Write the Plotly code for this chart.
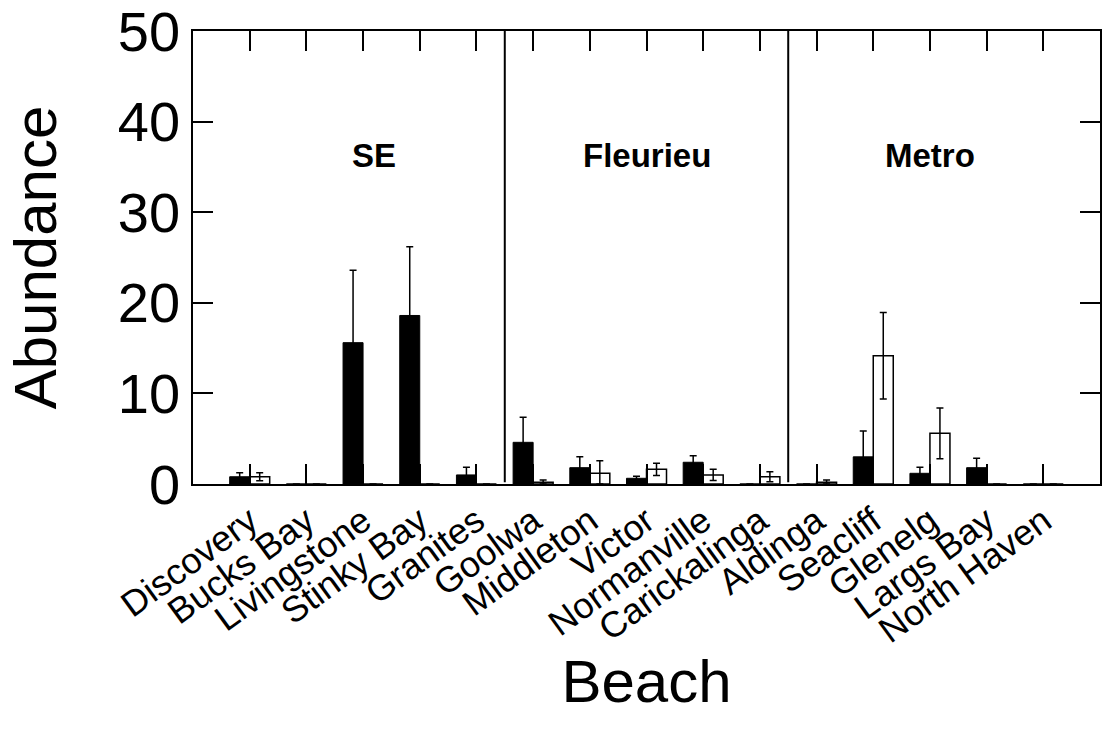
import plotly.graph_objects as go

beaches = ["Discovery", "Bucks Bay", "Livingstone", "Stinky Bay", "Granites",
           "Goolwa", "Middleton", "Victor", "Normanville", "Carickalinga",
           "Aldinga", "Seacliff", "Glenelg", "Largs Bay", "North Haven"]
filled_vals = [0.8, 0, 15.6, 18.6, 1.0, 4.6, 1.8, 0.63, 2.4, 0, 0, 3.0, 1.18, 1.8, 0]
filled_err = [0.45, 0, 8.0, 7.6, 0.85, 2.76, 1.2, 0.22, 0.73, 0, 0, 2.85, 0.66, 1.03, 0]
open_vals = [0.8, 0, 0, 0, 0, 0.19, 1.18, 1.62, 1.0, 0.8, 0.19, 14.16, 5.6, 0, 0]
open_err = [0.45, 0, 0, 0, 0, 0.25, 1.4, 0.68, 0.62, 0.55, 0.25, 4.77, 2.8, 0, 0]
y_ticks = [0, 10, 20, 30, 40, 50]

regions = ["SE", "Fleurieu", "Metro"]
region_sizes = [5, 5, 5]
region_label_x = [2.2, 7.0, 12.0]
region_label_y = 36.3

FONT = "Liberation Sans, Arial, sans-serif"


def minus(vals, errs):
    return [min(v, e) for v, e in zip(vals, errs)]


def plus(errs):
    return [e if e > 0 else None for e in errs]


fig = go.Figure()
fig.add_trace(go.Bar(
    x=beaches, y=filled_vals, name="filled",
    marker=dict(color="black", line=dict(color="black", width=1)),
    error_y=dict(type="data", array=plus(filled_err), arrayminus=minus(filled_vals, filled_err),
                 symmetric=False, color="black", thickness=1.5, width=3.5),
))
fig.add_trace(go.Bar(
    x=beaches, y=open_vals, name="open",
    marker=dict(color="white", line=dict(color="black", width=1.5)),
    error_y=dict(type="data", array=plus(open_err), arrayminus=minus(open_vals, open_err),
                 symmetric=False, color="black", thickness=1.5, width=3.5),
))

# separators between regions
shapes = []
pos = -0.5
for s in region_sizes[:-1]:
    pos += s
    shapes.append(dict(type="line", xref="x", yref="y", x0=pos, x1=pos, y0=0.2, y1=50,
                       line=dict(color="black", width=2)))

annotations = []
for lab, lx in zip(regions, region_label_x):
    annotations.append(dict(x=lx, y=region_label_y, xref="x", yref="y", text="<b>%s</b>" % lab,
                            showarrow=False, font=dict(family=FONT, size=33, color="black")))

fig.update_layout(
    width=1104, height=731,
    margin=dict(l=193, r=4, t=31, b=247, autoexpand=False),
    paper_bgcolor="white", plot_bgcolor="white",
    barmode="group", bargap=0.294, bargroupgap=0,
    showlegend=False,
    shapes=shapes, annotations=annotations,
    font=dict(family=FONT, color="black"),
)
fig.update_xaxes(
    type="category", range=[-1, 15], automargin=False,
    showline=True, linecolor="black", linewidth=1.5, mirror="ticks",
    ticks="inside", ticklen=20, tickwidth=1.5, tickcolor="black",
    tickangle=-36, tickfont=dict(family=FONT, size=36, color="black"),
    showgrid=False, zeroline=False,
    title=dict(text="Beach", font=dict(family=FONT, size=60, color="black"), standoff=0),
)
fig.update_yaxes(
    range=[0, 50], tickmode="array", tickvals=y_ticks, ticktext=[str(t) for t in y_ticks],
    ticklabeloverflow="allow", automargin=False,
    showline=True, linecolor="black", linewidth=1.5, mirror="ticks",
    ticks="inside", ticklen=20, tickwidth=1.5, tickcolor="black",
    tickfont=dict(family=FONT, size=56, color="black"),
    showgrid=False, zeroline=False,
    title=dict(text="Abundance", font=dict(family=FONT, size=60, color="black"), standoff=42),
)

fig.write_html("out.html")
